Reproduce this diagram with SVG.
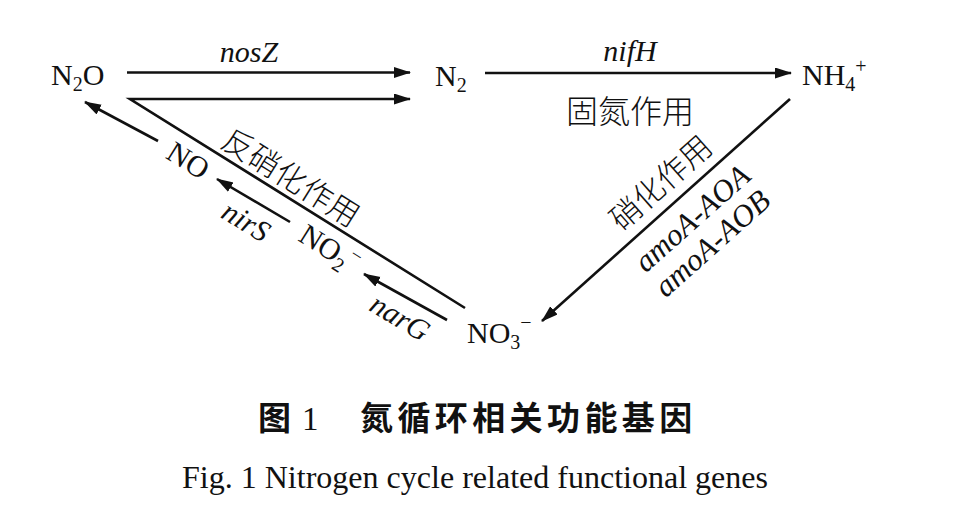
<svg xmlns="http://www.w3.org/2000/svg" width="976" height="525" viewBox="0 0 976 525">
<style>
.chem{font-family:"Liberation Serif","Times New Roman",serif;font-size:30px;fill:#111}
.sub{font-size:20px}
.gene{font-family:"Liberation Serif","Times New Roman",serif;font-style:italic;font-size:30px;fill:#111}
.cn{font-family:"Noto Sans CJK SC","Noto Sans CJK JP",sans-serif;font-size:30px;fill:#111;font-weight:300}
.ln{stroke:#111;stroke-width:2.6;fill:none;marker-end:url(#ah)}
</style>
<defs>
<marker id="ah" markerUnits="userSpaceOnUse" markerWidth="18" markerHeight="12" refX="16" refY="5.5" orient="auto">
<path d="M0,0 L17,5.5 L0,11 z" fill="#111"/>
</marker>
</defs>
<rect width="976" height="525" fill="#fff"/>

<g id="connectors">
<line class="ln" x1="127" y1="72.5" x2="410" y2="72.5"/>
<polyline class="ln" points="465,308 130,99 410,99"/>
<line class="ln" x1="485" y1="73" x2="791" y2="73"/>
<line class="ln" x1="790" y1="99" x2="542" y2="321"/>
<line class="ln" x1="158" y1="141" x2="85" y2="102"/>
<line class="ln" x1="290" y1="222" x2="217" y2="179"/>
<line class="ln" x1="447" y1="320" x2="364" y2="274"/>
</g>

<g id="labels">
<text class="gene" x="249" y="62" text-anchor="middle">nosZ</text>
<text class="gene" x="630" y="61" text-anchor="middle">nifH</text>
<text class="cn" x="630" y="123" text-anchor="middle" style="font-size:32px">固氮作用</text>
<text class="cn" transform="translate(285,187) rotate(32)" text-anchor="middle" style="font-size:31px">反硝化作用</text>
<text class="gene" transform="translate(241,230) rotate(31)" text-anchor="middle">nirS</text>
<text class="gene" transform="translate(395,326) rotate(31)" text-anchor="middle">narG</text>
<text class="cn" transform="translate(668,191) rotate(-41.7)" text-anchor="middle" style="font-size:31px">硝化作用</text>
<text class="gene" transform="translate(699,226) rotate(-41.7)" text-anchor="middle" style="font-size:31px">amoA-AOA</text>
<text class="gene" transform="translate(719,251) rotate(-41.7)" text-anchor="middle" style="font-size:31px">amoA-AOB</text>
</g>

<g id="n2o"><text class="chem" x="51" y="85">N<tspan class="sub" dy="6">2</tspan><tspan dy="-6">O</tspan></text></g>
<g id="n2"><text class="chem" x="435" y="86">N<tspan class="sub" dy="6">2</tspan></text></g>
<g id="nh4"><text class="chem" x="802" y="85">NH<tspan class="sub" dy="6">4</tspan><tspan class="sub" dy="-18">+</tspan></text></g>
<g id="no3"><text class="chem" x="467" y="343">NO<tspan class="sub" dy="6">3</tspan><tspan class="sub" dy="-20">−</tspan></text></g>
<g id="no"><text class="chem" transform="translate(183,169) rotate(32)" text-anchor="middle">NO</text></g>
<g id="no2"><text class="chem" transform="translate(297,240) rotate(32)">NO<tspan class="sub" dy="6">2</tspan><tspan class="sub" dy="-18">−</tspan></text></g>

<g id="caption">
<text x="258" y="430" style="font-family:'Noto Sans CJK SC',sans-serif;font-size:33px;font-weight:700;fill:#111">图<tspan x="302" style="font-family:'Liberation Serif',serif;font-weight:400">1</tspan><tspan>　</tspan><tspan x="360" letter-spacing="4.4">氮循环相关功能基因</tspan></text>
<text x="182" y="488" textLength="586" lengthAdjust="spacingAndGlyphs" style="font-family:'Liberation Serif',serif;font-size:32px;fill:#111">Fig. 1 Nitrogen cycle related functional genes</text>
</g>
</svg>
